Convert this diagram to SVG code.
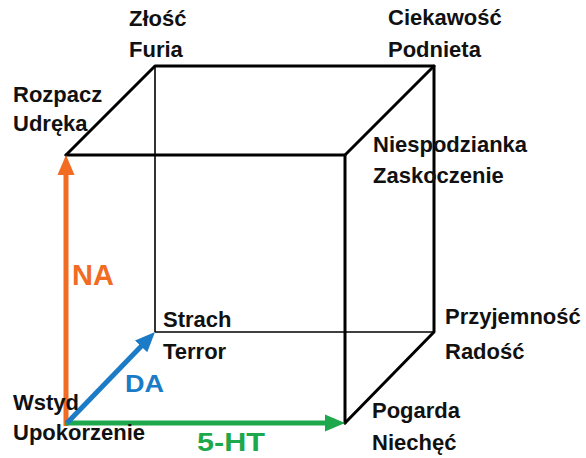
<svg xmlns="http://www.w3.org/2000/svg" width="586" height="458" viewBox="0 0 586 458">
<style>
.lbl{font-family:"Liberation Sans",Arial,sans-serif;font-weight:bold;font-size:22px;fill:#111}
.ax{font-family:"Liberation Sans",Arial,sans-serif;font-weight:bold}
.thick{stroke:#000;stroke-width:3;fill:none;stroke-linecap:round;stroke-linejoin:round}
.thin{stroke:#000;stroke-width:1.6;fill:none}
</style>
<defs>
<marker id="hO" markerUnits="userSpaceOnUse" markerWidth="20" markerHeight="18" refX="5" refY="9" orient="auto"><path d="M0,0.5 L20,9 L0,17.5 z" fill="#F26B22"/></marker>
<marker id="hB" markerUnits="userSpaceOnUse" markerWidth="20" markerHeight="18" refX="5" refY="9" orient="auto"><path d="M0,0.5 L20,9 L0,17.5 z" fill="#1B7BC6"/></marker>
<marker id="hG" markerUnits="userSpaceOnUse" markerWidth="20" markerHeight="18" refX="5" refY="9" orient="auto"><path d="M0,0.5 L20,9 L0,17.5 z" fill="#1DA84B"/></marker>
</defs>
<rect width="586" height="458" fill="#fff"/>
<g id="connectors">
<line class="thin" x1="155" y1="66" x2="155" y2="332"/>
<line class="thin" x1="155" y1="332" x2="434" y2="332"/>
<polyline class="thick" points="66,155 155,66 434,66 434,332 345,423"/>
<polyline class="thick" points="66,155 345,155 434,66"/>
<line class="thick" x1="345" y1="155" x2="345" y2="423"/>
<line x1="66" y1="426" x2="66" y2="170" stroke="#F26B22" stroke-width="5" marker-end="url(#hO)"/>
<line x1="65" y1="423" x2="330" y2="423" stroke="#1DA84B" stroke-width="5" marker-end="url(#hG)"/>
<line x1="67" y1="423" x2="144.6" y2="342.8" stroke="#1B7BC6" stroke-width="5" marker-end="url(#hB)"/>
</g>
<g id="zlosc"><text class="lbl" x="129" y="26">Złość</text><text class="lbl" x="129" y="57">Furia</text></g>
<g id="ciekawosc"><text class="lbl" x="388" y="25">Ciekawość</text><text class="lbl" x="388" y="57">Podnieta</text></g>
<g id="rozpacz"><text class="lbl" x="13" y="102">Rozpacz</text><text class="lbl" x="13" y="131">Udręka</text></g>
<g id="niespodzianka"><text class="lbl" x="373" y="152">Niespodzianka</text><text class="lbl" x="373" y="183">Zaskoczenie</text></g>
<g id="strach"><text class="lbl" x="163" y="327">Strach</text><text class="lbl" x="163" y="359">Terror</text></g>
<g id="przyjemnosc"><text class="lbl" x="445" y="324">Przyjemność</text><text class="lbl" x="445" y="359">Radość</text></g>
<g id="wstyd"><text class="lbl" x="13" y="410">Wstyd</text><text class="lbl" x="13" y="440">Upokorzenie</text></g>
<g id="pogarda"><text class="lbl" x="372" y="418">Pogarda</text><text class="lbl" x="372" y="450">Niechęć</text></g>
<g id="axis-labels">
<text class="ax" x="72" y="285" font-size="29" fill="#F26B22">NA</text>
<text class="ax" x="125" y="392" font-size="24" fill="#1B7BC6" textLength="39" lengthAdjust="spacingAndGlyphs">DA</text>
<text class="ax" x="197" y="451" font-size="26" fill="#1DA84B" textLength="68" lengthAdjust="spacingAndGlyphs">5-HT</text>
</g>
</svg>
